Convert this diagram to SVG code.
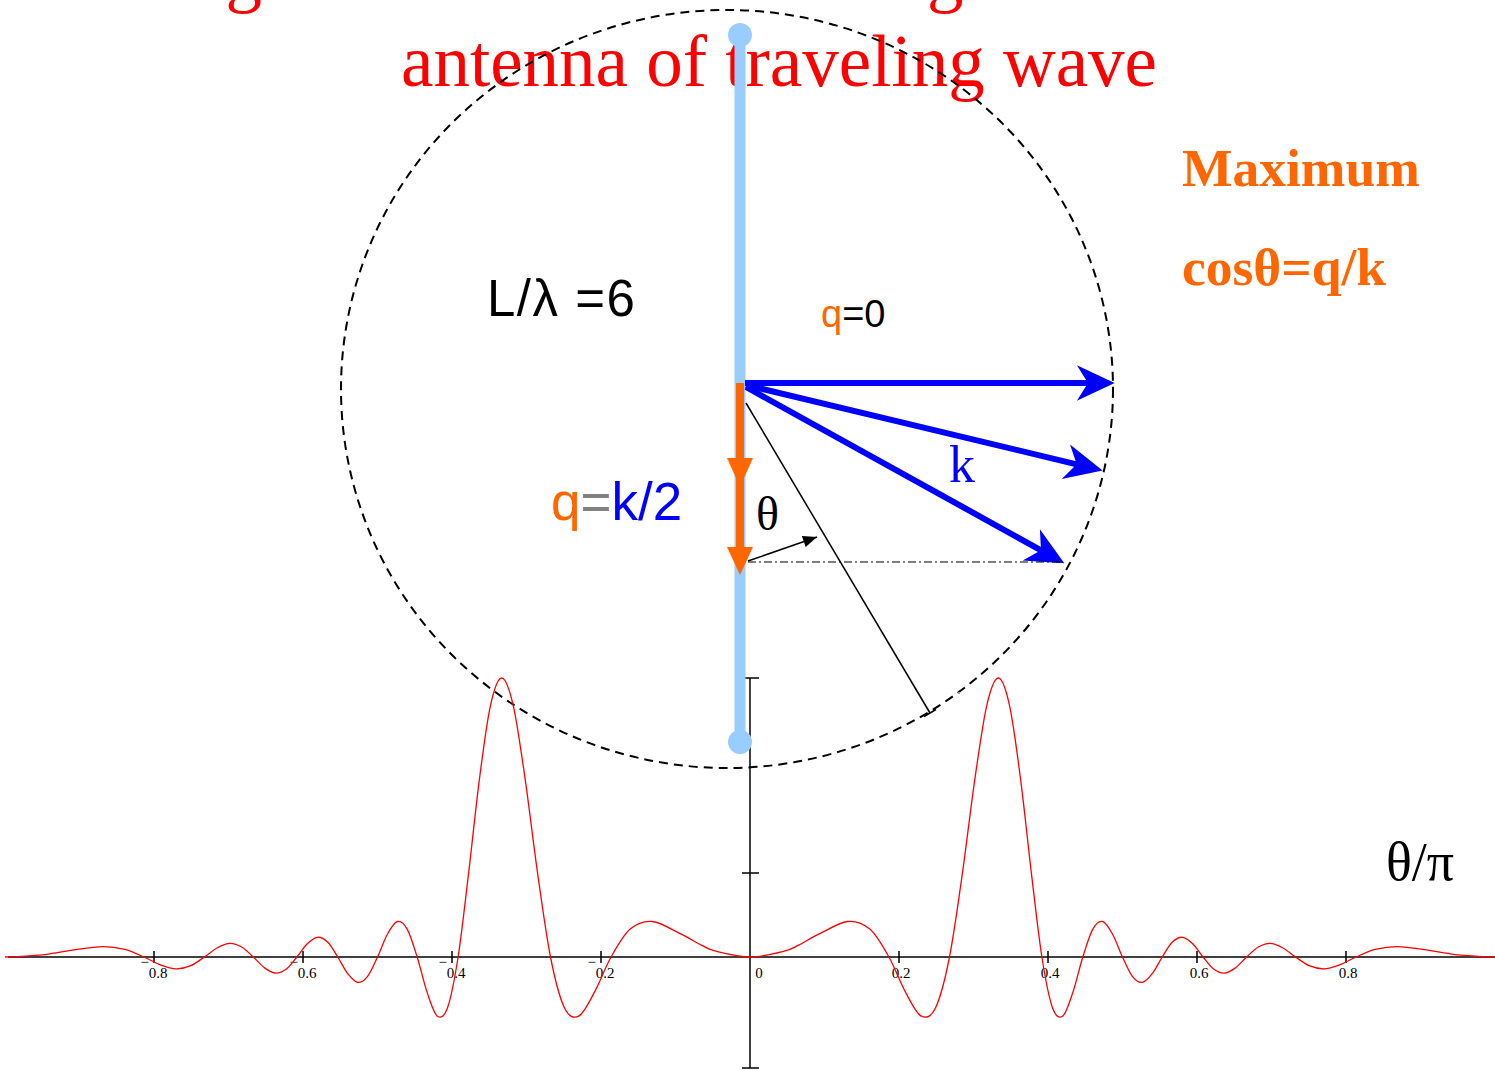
<svg xmlns="http://www.w3.org/2000/svg" xmlns:xlink="http://www.w3.org/1999/xlink" width="1495" height="1070" viewBox="0 0 1495 1070">
<style>
.title{font-family:"Liberation Serif",serif;font-size:73px;fill:#FF0000}
.serif{font-family:"Liberation Serif",serif}
.sans{font-family:"Liberation Sans",sans-serif}
.orange{fill:#FF6600}
.blue{fill:#0000FF}
.tl{font-family:"Liberation Serif",serif;font-size:15px;fill:#000;text-anchor:middle}
.ax{stroke:#000;stroke-width:1.5;fill:none}
.barrow{stroke:#0000FF;stroke-width:6;fill:none;marker-end:url(#bhead)}
</style>
<defs>
<marker id="bhead" markerUnits="userSpaceOnUse" markerWidth="60" markerHeight="40" viewBox="-12 -18 40 36" refX="0" refY="0" orient="auto" overflow="visible">
<path d="M24,0 L-10,-16 L0,0 L-10,16 Z" fill="#0000FF"/>
</marker>
<marker id="khead" markerUnits="userSpaceOnUse" markerWidth="20" markerHeight="14" viewBox="-12 -6 14 12" refX="0" refY="0" orient="auto" overflow="visible">
<path d="M0,0 L-12,-5 L-12,5 Z" fill="#000"/>
</marker>
</defs>
<rect width="1495" height="1070" fill="#FFFFFF"/>
<g id="title">
<text class="title" x="108" y="-2">Long thin wire radiation diagram of the linear</text>
<text class="title" x="779" y="86" text-anchor="middle">antenna of traveling wave</text>
</g>
<g id="circle">
<ellipse cx="727" cy="389" rx="386" ry="379" fill="none" stroke="#000" stroke-width="2" stroke-dasharray="9 6"/>
</g>
<g id="plot">
<line class="ax" x1="8" y1="957" x2="1495" y2="957"/>
<line class="ax" x1="750" y1="678" x2="750" y2="1068"/>
<path class="ax" d="M742,678H759M742,873H759M742,1068H759M154,951V963M303,951V963M452,951V963M601,951V963M899,951V963M1048,951V963M1197,951V963M1346,951V963"/>
<text class="tl" x="154" y="978"><tspan dy="-11">−</tspan><tspan dy="11">0.8</tspan></text>
<text class="tl" x="303" y="978"><tspan dy="-11">−</tspan><tspan dy="11">0.6</tspan></text>
<text class="tl" x="452" y="978"><tspan dy="-11">−</tspan><tspan dy="11">0.4</tspan></text>
<text class="tl" x="601" y="978"><tspan dy="-11">−</tspan><tspan dy="11">0.2</tspan></text>
<text class="tl" x="759" y="978">0</text>
<text class="tl" x="901" y="978">0.2</text>
<text class="tl" x="1050" y="978">0.4</text>
<text class="tl" x="1199" y="978">0.6</text>
<text class="tl" x="1348" y="978">0.8</text>
<path id="curveR" fill="none" stroke="#FF0000" stroke-width="1.3" stroke-linejoin="round" d="M750,957 C761.4,957 776.2,953.1 784.3,951.1 C792.4,949.1 792.8,948.0 798.5,945.2 C804.2,942.4 810.5,938.2 818.7,934.2 C826.9,930.3 839.0,922.4 847.5,921.5 C856.0,920.7 862.9,923.2 869.8,929.1 C876.7,935.0 882.9,946.4 888.9,957 C894.9,967.6 900.5,983.0 905.9,992.9 C911.3,1002.8 916.4,1013.8 921.4,1016.2 C926.4,1018.6 931.1,1017.1 935.8,1007.2 C940.5,997.3 945.1,979.3 949.5,957 C953.9,934.7 958.2,902.9 962.4,873.3 C966.6,843.7 970.8,807.3 974.8,779.4 C978.9,751.5 982.8,722.7 986.7,705.8 C990.6,688.9 994.5,678 998.3,678 C1002.1,678 1005.9,688.9 1009.6,705.8 C1013.3,722.7 1017.0,751.5 1020.6,779.4 C1024.2,807.3 1027.9,843.7 1031.4,873.3 C1035.0,902.9 1038.4,934.7 1041.9,957 C1045.4,979.3 1048.9,997.3 1052.3,1007.2 C1055.8,1017.1 1059.2,1018.6 1062.6,1016.2 C1066.0,1013.8 1069.3,1002.8 1072.7,992.9 C1076.1,983.0 1079.5,967.6 1082.8,957 C1086.2,946.4 1089.5,935.0 1092.8,929.1 C1096.1,923.2 1099.4,920.7 1102.7,921.5 C1106.0,922.4 1109.3,928.3 1112.6,934.2 C1115.9,940.1 1119.2,950.0 1122.5,957 C1125.8,964.0 1129.1,972.1 1132.4,976.3 C1135.7,980.5 1139.0,982.8 1142.3,982.4 C1145.6,982.0 1148.9,977.9 1152.2,973.7 C1155.5,969.5 1158.9,962.3 1162.2,957 C1165.5,951.8 1168.8,945.5 1172.2,942.2 C1175.6,938.9 1179.0,937.0 1182.4,937.3 C1185.8,937.6 1189.3,940.5 1192.7,943.8 C1196.2,947.1 1199.6,952.8 1203.1,957 C1206.6,961.2 1210.1,966.3 1213.6,969 C1217.2,971.7 1220.8,973.3 1224.4,973.1 C1228.0,972.9 1231.7,970.6 1235.4,967.9 C1239.1,965.2 1242.9,960.5 1246.7,957 C1250.5,953.5 1254.4,949.3 1258.3,947 C1262.2,944.7 1266.2,943.2 1270.2,943.3 C1274.3,943.4 1278.4,945.4 1282.6,947.7 C1286.8,950.0 1291.2,954.0 1295.6,957 C1300.0,960.0 1304.5,963.7 1309.2,965.7 C1313.9,967.7 1318.6,968.9 1323.6,968.8 C1328.6,968.7 1333.7,967.1 1339.1,965.1 C1344.5,963.1 1350.1,959.6 1356.1,957 C1362.1,954.4 1368.3,951.1 1375.2,949.4 C1382.1,947.7 1389.0,946.5 1397.5,946.6 C1406.0,946.7 1418.1,948.7 1426.3,949.8 C1434.5,950.9 1440.8,952.3 1446.5,953.2 C1452.2,954.1 1452.6,954.5 1460.7,955.1 C1468.8,955.7 1483.6,957 1495,957"/>
<use xlink:href="#curveR" href="#curveR" transform="matrix(-1 0 0 1 1500 0)"/>
<text class="serif" x="1386" y="880" font-size="54">θ/π</text>
</g>
<g id="antenna">
<line x1="740" y1="35" x2="740" y2="742" stroke="#99CCFF" stroke-width="11"/>
<circle cx="740" cy="35" r="12" fill="#99CCFF"/>
<circle cx="740" cy="742" r="12" fill="#99CCFF"/>
</g>
<g id="connectors">
<line x1="740" y1="383" x2="740" y2="556" stroke="#FF6600" stroke-width="8"/>
<polygon points="727,458 753,458 740,487" fill="#FF6600"/>
<polygon points="727,547 753,547 740,575" fill="#FF6600"/>
<line class="barrow" x1="745" y1="383" x2="1088" y2="383"/>
<line class="barrow" x1="746" y1="385" x2="1076.7" y2="464.3"/>
<line class="barrow" x1="746" y1="387" x2="1041" y2="550.3"/>
<line x1="746" y1="403" x2="930" y2="713" stroke="#000" stroke-width="1.5"/>
<line x1="924" y1="716.5" x2="936" y2="709.5" stroke="#000" stroke-width="1.5"/>
<line x1="748" y1="561" x2="817" y2="537" stroke="#000" stroke-width="1.5" marker-end="url(#khead)"/>
<line x1="748" y1="562" x2="1062" y2="562" stroke="#000" stroke-width="1.2" stroke-dasharray="8 3 2 3"/>
<rect x="958" y="692" width="2" height="2" fill="#999"/>
</g>
<g id="labels">
<text class="sans" x="487" y="316" font-size="51" letter-spacing="1.5">L/λ =6</text>
<text class="sans" x="821" y="327" font-size="38"><tspan class="orange">q</tspan>=0</text>
<text class="sans" x="551" y="520" font-size="53"><tspan class="orange">q</tspan><tspan fill="#808080">=</tspan><tspan class="blue">k/2</tspan></text>
<text class="serif blue" x="949" y="482" font-size="52">k</text>
<text class="serif" x="756" y="530" font-size="48">θ</text>
<text class="serif orange" x="1182" y="186" font-size="53.5" font-weight="bold">Maximum</text>
<text class="serif orange" x="1182" y="285" font-size="53.5" font-weight="bold">cosθ=q/k</text>
</g>
</svg>
